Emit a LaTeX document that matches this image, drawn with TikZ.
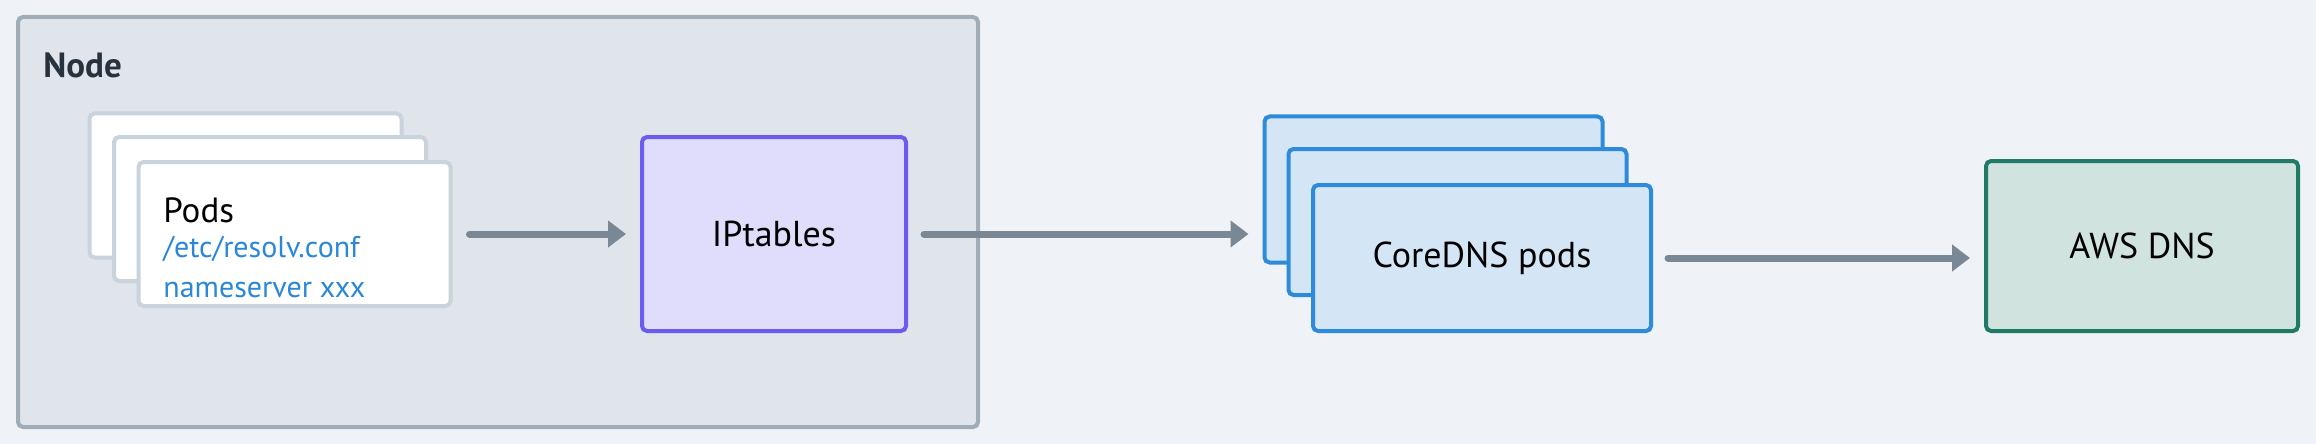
\documentclass[tikz,border=0pt]{standalone}
\usepackage{fontspec}
\setmainfont{PT Sans}
\usetikzlibrary{arrows.meta}
\definecolor{bg}{HTML}{EFF3F7}
\definecolor{nodefill}{HTML}{E0E5EC}
\definecolor{nodeline}{HTML}{A0ADB9}
\definecolor{podline}{HTML}{C8D3DC}
\definecolor{iptfill}{HTML}{E0DCFB}
\definecolor{iptline}{HTML}{6B5BF0}
\definecolor{corefill}{HTML}{D4E6F6}
\definecolor{coreline}{HTML}{2E8ADB}
\definecolor{awsfill}{HTML}{D0E3DF}
\definecolor{awsline}{HTML}{1F7A66}
\definecolor{arrowc}{HTML}{7A8794}
\definecolor{bluetext}{HTML}{2B87D8}
\definecolor{darktext}{HTML}{28323D}
\tikzset{
  box/.style={rectangle, rounded corners=2.5pt, line width=2pt, inner sep=0pt},
  podbox/.style={box, draw=podline, fill=white, minimum width=156pt, minimum height=72pt},
  corebox/.style={box, draw=coreline, fill=corefill, minimum width=169pt, minimum height=73pt, font=\fontsize{18}{21}\selectfont, text=black},
  flow/.style={draw=arrowc, line width=3.5pt, line cap=round, -{Triangle[length=9pt,width=13pt]}},
  bluelabel/.style={anchor=base west, inner sep=0pt, text=bluetext, font=\fontsize{15}{18}\selectfont},
}
\begin{document}
\begin{tikzpicture}[x=0.5pt,y=-0.5pt]
\useasboundingbox[fill=bg] (0,0) rectangle (2316,444);
\node[box, draw=nodeline, fill=nodefill, minimum width=480pt, minimum height=205pt] (node) at (498,222) {};
\node[anchor=base west, inner sep=0pt, text=darktext, font=\fontsize{17.5}{20}\selectfont\bfseries] (nodelabel) at (43,78) {Node};
\node[podbox] (pod1) at (245.5,185.5) {};
\node[podbox] (pod2) at (270,209) {};
\node[podbox] (pod3) at (294.5,234) {};
\node[anchor=base west, inner sep=0pt, font=\fontsize{17.5}{20}\selectfont] (podlabel) at (163,222) {Pods};
\node[bluelabel] (resolv) at (163,257) {/etc/resolv.conf};
\node[bluelabel] (ns) at (163,297) {nameserver xxx};
\node[box, draw=iptline, fill=iptfill, minimum width=132pt, minimum height=97pt, font=\fontsize{18}{21}\selectfont] (ipt) at (774,234) {IPtables};
\node[corebox] (core1) at (1433.5,189.5) {};
\node[corebox] (core2) at (1457.5,222) {};
\node[corebox] (core3) at (1482,258) {CoreDNS pods};
\node[box, draw=awsline, fill=awsfill, minimum width=156pt, minimum height=85pt, font=\fontsize{18}{21}\selectfont] (aws) at (2142,246) {AWS DNS};
\draw[flow, shorten <=8.5pt, shorten >=7pt] (pod3.east) -- (ipt.west);
\draw[flow, shorten <=8pt, shorten >=7pt] (ipt.east) -- (ipt.east -| core1.west);
\draw[flow, shorten <=7.5pt, shorten >=7pt] (core3.east) -- (core3.east -| aws.west);
\end{tikzpicture}
\end{document}
